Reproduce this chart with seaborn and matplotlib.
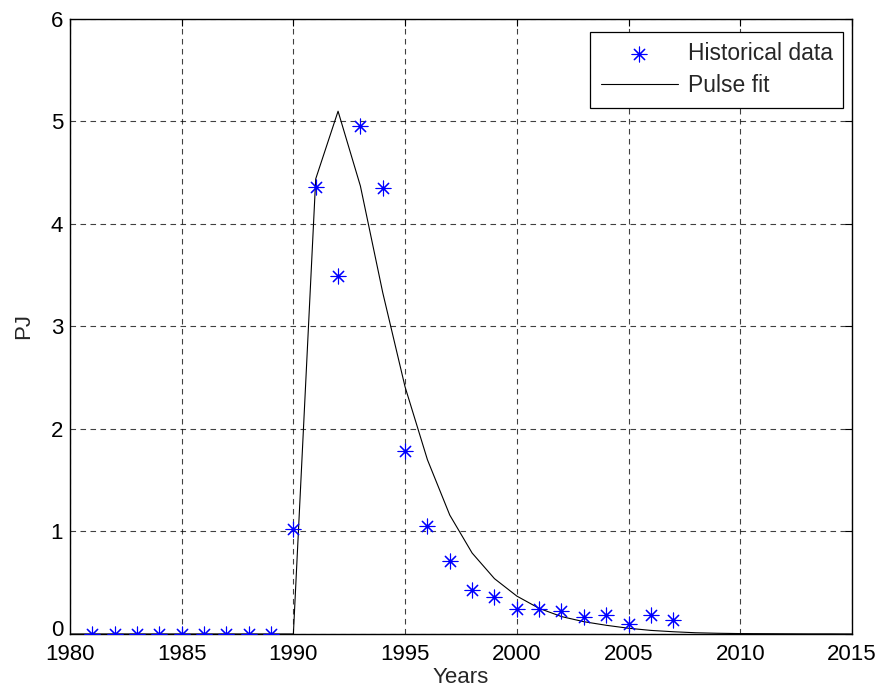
import numpy as np
import pandas as pd
import matplotlib
matplotlib.use("Agg")
import matplotlib.pyplot as plt
import matplotlib.transforms as mtransforms
import seaborn as sns

# Historical production (PJ)
hist_years = list(range(1981, 2008))
hist_values = [0, 0, 0, 0, 0, 0, 0, 0, 0,
               1.02, 4.36, 3.49, 4.96, 4.35, 1.79, 1.05, 0.71, 0.43, 0.36,
               0.24, 0.24, 0.22, 0.17, 0.19, 0.10, 0.19, 0.14]

# Fitted pulse curve (PJ)
fit_years = list(range(1980, 2016))
fit_values = [0, 0, 0, 0, 0, 0, 0, 0, 0, 0,
              0, 4.44, 5.10, 4.37, 3.33, 2.41, 1.70, 1.16, 0.79, 0.54,
              0.37, 0.25, 0.17, 0.12, 0.085, 0.056, 0.035, 0.022, 0.012, 0.007,
              0.004, 0.003, 0.002, 0.001, 0.001, 0.0]

x_ticks = [1980, 1985, 1990, 1995, 2000, 2005, 2010, 2015]
y_ticks = [0, 1, 2, 3, 4, 5, 6]

sns.set_style("white")
plt.rcParams["font.family"] = ["Liberation Sans", "DejaVu Sans"]

hist_df = pd.DataFrame({"Years": hist_years, "PJ": hist_values})
fit_df = pd.DataFrame({"Years": fit_years, "PJ": fit_values})

fig = plt.figure(figsize=(8.8, 7.0), dpi=100)
ax = fig.add_axes([0.0795, 0.0943, 0.8886, 0.8786])

sns.scatterplot(data=hist_df, x="Years", y="PJ", ax=ax, marker=(8, 2, 0),
                s=115, color="blue", edgecolor="blue", linewidth=0.8,
                label="Historical data", zorder=3)
sns.lineplot(data=fit_df, x="Years", y="PJ", ax=ax, color="black",
             linewidth=0.8, label="Pulse fit", zorder=2)

ax.set_xlim(1980, 2015)
ax.set_ylim(0, 6)
ax.set_xticks(x_ticks)
ax.set_yticks(y_ticks)
ax.grid(True, color="black", linestyle=(0, (5, 4)), linewidth=0.8, alpha=0.75)
ax.tick_params(direction="in", length=5, labelsize=16, top=True, right=True,
               colors="black")
ax.tick_params(axis="x", pad=7)
ax.tick_params(axis="y", pad=5)
for sp in ax.spines.values():
    sp.set_color("black")
    sp.set_linewidth(1.0)
ax.set_xlabel("Years", fontsize=16, labelpad=2)
ax.set_ylabel("PJ", fontsize=16, labelpad=12)

# lift the bottom y tick label slightly so it clears the first year label
zero_label = ax.get_yticklabels()[0]
zero_label.set_transform(zero_label.get_transform() +
                         mtransforms.ScaledTranslation(0, 4 / 72, fig.dpi_scale_trans))

leg = ax.legend(loc="upper right", fontsize=16.5, frameon=True, fancybox=False,
                edgecolor="black", framealpha=1, borderpad=0.45,
                labelspacing=0.4, handlelength=3.4, handletextpad=0.4,
                borderaxespad=0, bbox_to_anchor=(0.9885, 0.979))
leg.get_frame().set_linewidth(0.9)

fig.savefig("out.png", dpi=100)
